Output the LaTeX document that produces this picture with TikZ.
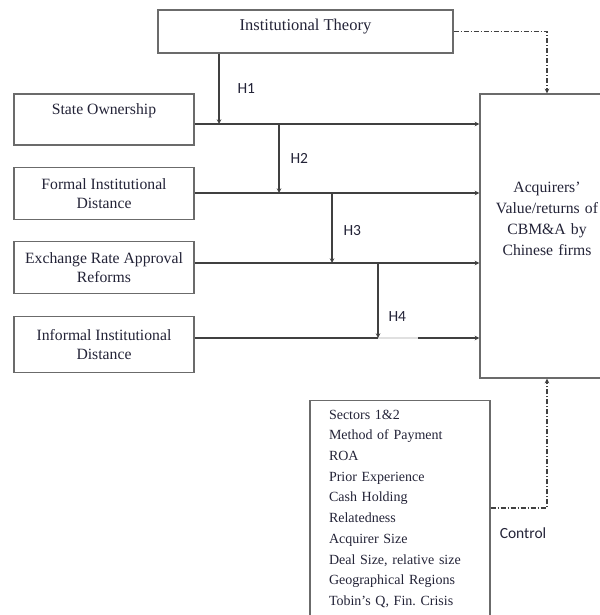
\documentclass[tikz,border=0pt]{standalone}
\usepackage{fontspec}
\setmainfont{Liberation Serif}
\newfontfamily\hypfont{Carlito}
\usepackage{tikz}
\frenchspacing
\definecolor{linegray}{gray}{0.25}
\definecolor{boxgray}{gray}{0.42}
\definecolor{textdark}{RGB}{35,35,55}
\tikzstyle{block} = [rectangle, minimum width=180pt, minimum height=52pt, text centered, align=center, draw=boxgray, line width=1.2pt, text=textdark, font=\fontsize{15.7}{19.5}\selectfont]
\tikzstyle{arrow} = [line width=1.1pt, draw=linegray, ->, >=stealth]
\tikzstyle{ctrl} = [arrow, dash pattern=on 5pt off 2pt on 1pt off 2pt]
\tikzstyle{hyp} = [text=textdark, font=\hypfont\fontsize{15.5}{18}\selectfont, inner sep=0pt]

\begin{document}
\begin{tikzpicture}[x=1pt, y=1pt, node distance=74pt]
        \useasboundingbox (0,0) rectangle (599,-615);
        \node (theory) [block, minimum width=295pt, minimum height=43pt, text height=11pt, text depth=13pt, font=\fontsize{16.5}{19.5}\selectfont] at (305.5,-31.5) {Institutional Theory};
        \node (owner) [block, minimum height=51pt, text height=11pt, text depth=22pt] at (104,-119.5) {State Ownership};
        \node (formal) [block, below of=owner] {Formal Institutional\\Distance};
        \node (exchange) [block, below of=formal] {Exchange Rate Approval\\Reforms};
        \node (informal) [block, below of=exchange, yshift=-3pt, minimum height=56pt] {Informal Institutional\\Distance};
        \node (value) [block, minimum width=134pt, minimum height=284pt, text width=120pt, inner xsep=7pt, text height=11pt, text depth=99pt, font=\fontsize{15.7}{21}\selectfont] at (547,-236) {Acquirers'\\Value/returns of\\CBM\&A by\\Chinese firms};
        \node (controls) [block, anchor=north, text width=142pt, inner xsep=10pt, inner ysep=8.5pt, align=left, text height=10pt, text depth=195pt, font=\fontsize{14}{20.7}\selectfont] at (400,-400) {Sectors 1\&2\\Method of Payment\\ROA\\Prior Experience\\Cash Holding\\Relatedness\\Acquirer Size\\Deal Size, relative size\\Geographical Regions\\Tobin's Q, Fin. Crisis};
        \node (controllabel) [hyp] at (523,-533) {Control};
        \coordinate (j1) at (219,-124);
        \coordinate (j2) at (279,-193);
        \coordinate (j3) at (332,-263);
        \coordinate (j4) at (378,-338);
        \coordinate (gap) at (418,-338);
        \draw [arrow] (owner.east |- j1) -- (value.west |- j1);
        \draw [arrow] (formal.east |- j2) -- (value.west |- j2);
        \draw [arrow] (exchange.east |- j3) -- (value.west |- j3);
        \draw [arrow] (informal.east |- j4) -- (value.west |- j4);
        \draw [black!12, line width=1.1pt] (j4) -- (gap);
        \draw [arrow] (theory.south -| j1) -- node[hyp, midway, right, xshift=18pt] {H1} (j1);
        \draw [arrow] (j1 -| j2) -- node[hyp, midway, right, xshift=11pt] {H2} (j2);
        \draw [arrow] (j2 -| j3) -- node[hyp, pos=0.54, right, xshift=11pt] {H3} (j3);
        \draw [arrow] (j3 -| j4) -- node[hyp, pos=0.72, right, xshift=10pt] {H4} (j4);
        \draw [ctrl] (theory.east) -| (value.north);
        \draw [ctrl] ([yshift=-108pt]controls.north east) -| (value.south);
\end{tikzpicture}
\end{document}
